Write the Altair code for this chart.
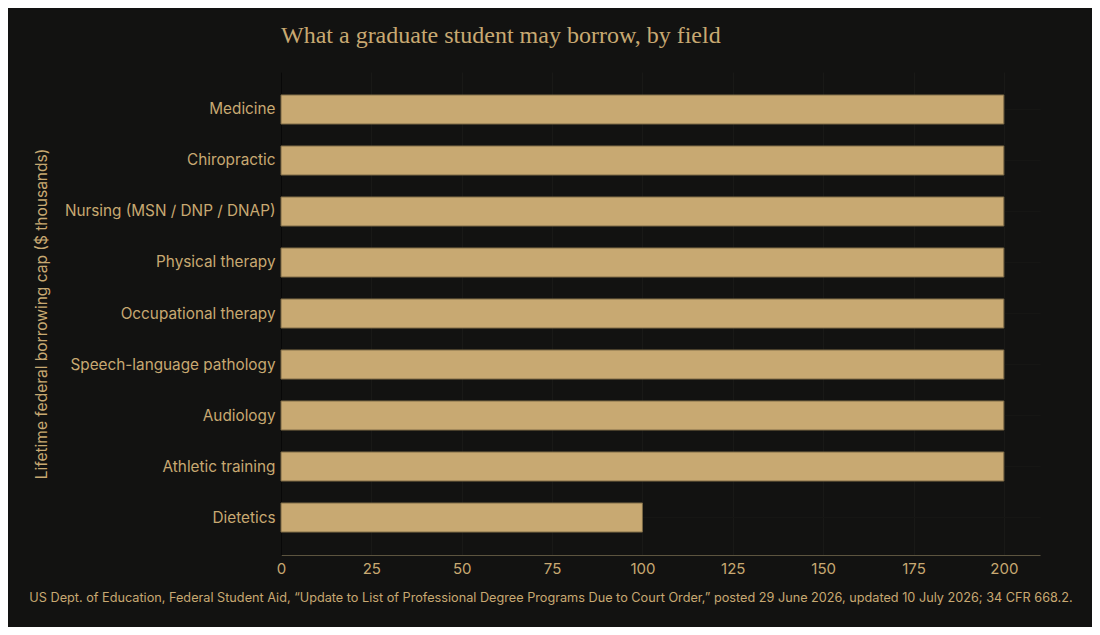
import altair as alt
import pandas as pd

fields = [
    "Medicine",
    "Chiropractic",
    "Nursing (MSN / DNP / DNAP)",
    "Physical therapy",
    "Occupational therapy",
    "Speech-language pathology",
    "Audiology",
    "Athletic training",
    "Dietetics",
]
caps = [200, 200, 200, 200, 200, 200, 200, 200, 100]
x_ticks = [0, 25, 50, 75, 100, 125, 150, 175, 200]

title_text = "What a graduate student may borrow, by field"
y_title = "Lifetime federal borrowing cap ($ thousands)"
source_text = ("US Dept. of Education, Federal Student Aid, \u201cUpdate to List of Professional Degree "
               "Programs Due to Court Order,\u201d posted 29 June 2026, updated 10 July 2026; 34 CFR 668.2.")

df = pd.DataFrame({"field": fields, "cap": caps})

GOLD = "#c8a972"
BG = "#121211"
SANS = "Inter"
W, H = 759, 483
PL, PT = 273, 64
PR = 1084 - PL - W
PB = 619 - PT - H

bars = alt.Chart(df).mark_bar(
    color=GOLD, stroke="#7a6845", strokeWidth=1
).encode(
    x=alt.X("cap:Q", scale=alt.Scale(domain=[0, 210], nice=False),
            axis=alt.Axis(values=x_ticks, title=None, labelFontSize=15, labelColor=GOLD,
                          labelFont=SANS, ticks=False, labelPadding=6, labelFlush=False,
                          domainColor="#5c543f", domainWidth=1.2,
                          grid=True, gridColor="#191917", gridWidth=1)),
    y=alt.Y("field:N", sort=fields,
            scale=alt.Scale(paddingInner=0.43, paddingOuter=0.45),
            axis=alt.Axis(title=y_title, titleFont=SANS, titleFontSize=15.5,
                          titleFontWeight="normal", titleColor=GOLD, titlePadding=32,
                          labelFont=SANS, labelFontSize=15.3, labelColor=GOLD,
                          labelPadding=6, ticks=False, domainColor="#080808",
                          grid=True, gridColor="#161614", labelLimit=400)),
)

src = alt.Chart(pd.DataFrame({"t": [source_text]})).mark_text(
    font=SANS, fontSize=12.7, color=GOLD, align="center", baseline="middle"
).encode(
    text="t:N",
    x=alt.value(551 - 8 - PL),
    y=alt.value(H + 43),
)

chart = alt.layer(bars, src).properties(
    width=W, height=H,
    title=alt.TitleParams(title_text, font="Liberation Serif", fontSize=24,
                          fontWeight="normal", color=GOLD, anchor="start",
                          frame="group", offset=24),
    background=BG,
    padding={"left": PL, "top": PT, "right": PR, "bottom": PB},
    autosize=alt.AutoSizeParams(type="none"),
    usermeta={"embedOptions": {"defaultStyle": "html, body { background: #121211; }"}},
).configure_view(stroke=None)

chart.save("out.html", embed_options={"renderer": "svg", "actions": False})
